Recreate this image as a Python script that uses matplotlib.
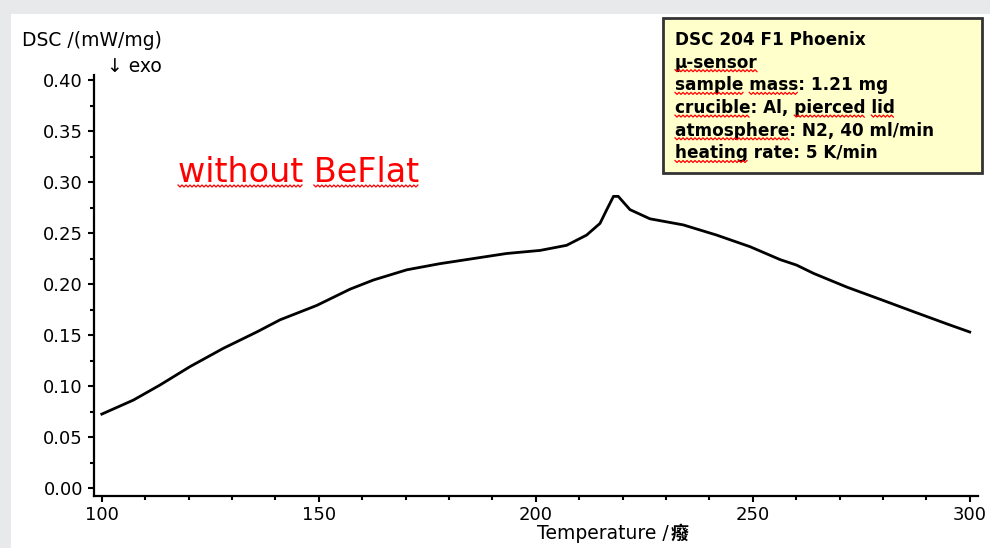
import matplotlib
matplotlib.use("Agg")
import numpy as np
import matplotlib.pyplot as plt
from matplotlib.patches import Rectangle
from matplotlib.lines import Line2D
from matplotlib.transforms import IdentityTransform
from matplotlib.font_manager import FontProperties
from matplotlib.ticker import MultipleLocator, FormatStrFormatter

# ---- data ----
temperature = [100, 107.3, 113.4, 120.3, 128, 135.7, 141.1, 149.5, 157.2, 162.6,
               170.3, 177.9, 185.6, 193.3, 201, 207.1, 211.7, 214.8, 216.3, 217.9,
               219.0, 221.7, 226.3, 234, 241.7, 249.4, 256.3, 260.1, 264, 271.7,
               279.4, 287, 294.7, 300]
dsc = [0.0725, 0.0863, 0.101, 0.119, 0.137, 0.153, 0.165, 0.179, 0.195, 0.204,
       0.214, 0.220, 0.225, 0.230, 0.233, 0.238, 0.248, 0.2595, 0.2725, 0.286,
       0.286, 0.273, 0.264, 0.258, 0.248, 0.2366, 0.224, 0.2186, 0.2105, 0.197,
       0.185, 0.173, 0.161, 0.153]
info_lines = ["DSC 204 F1 Phoenix", "\u00b5-sensor", "sample mass: 1.21 mg",
              "crucible: Al, pierced lid", "atmosphere: N2, 40 ml/min",
              "heating rate: 5 K/min"]
# words flagged by the spell checker (red wavy underline) in each line
flagged_words = [[], ["\u00b5-sensor"], ["sample", "mass"], ["crucible", "pierced", "lid"],
                 ["atmosphere"], ["heating"]]
note_text = "without BeFlat"
note_flagged = ["without", "BeFlat"]
y_label = "DSC /(mW/mg)"
x_label = "Temperature /"
unit_glyph = "\u7648"

W, H = 990, 548
fig = plt.figure(figsize=(W / 100, H / 100), dpi=100)
fig.patch.set_facecolor("white")
renderer = fig.canvas.get_renderer()

def px(x, y):
    return x / W, 1 - y / H

def text_w(s, fp):
    w, h, d = renderer.get_text_width_height_descent(s, fp, ismath=False)
    return w

def squiggle(x0, x1, ybase):
    xs = np.arange(x0, x1 + 0.1, 2.0)
    ys = np.where(np.arange(len(xs)) % 2 == 0, H - ybase, H - ybase - 2)
    fig.add_artist(Line2D(xs, ys, transform=IdentityTransform(), color="#ff0000",
                          lw=0.9, zorder=6))

def underline_words(line, words, x_left, ybase, fp):
    pos = 0
    for wd in words:
        i = line.index(wd, pos)
        x0 = x_left + text_w(line[:i], fp) if i > 0 else x_left
        x1 = x_left + text_w(line[:i + len(wd)], fp)
        squiggle(x0, x1, ybase)
        pos = i + len(wd)

# grey frame strips
fig.add_artist(Rectangle((0, 1 - 14 / H), 1, 14 / H, transform=fig.transFigure,
                         facecolor="#e8e9eb", edgecolor="none", zorder=0))
fig.add_artist(Rectangle((0, 0), 11 / W, 1, transform=fig.transFigure,
                         facecolor="#e8e9eb", edgecolor="none", zorder=0))

ax = fig.add_axes([94 / W, 1 - 496 / H, (978 - 94) / W, (496 - 75) / H])
ax.set_facecolor("none")
ax.plot(temperature, dsc, color="black", lw=2.0)
ax.set_xlim(98.2, 301.9)
ax.set_ylim(-0.0078, 0.405)
for s in ["top", "right"]:
    ax.spines[s].set_visible(False)
for s in ["left", "bottom"]:
    ax.spines[s].set_linewidth(1.6)
ax.xaxis.set_major_locator(MultipleLocator(50))
ax.xaxis.set_minor_locator(MultipleLocator(10))
ax.yaxis.set_major_locator(MultipleLocator(0.05))
ax.yaxis.set_minor_locator(MultipleLocator(0.025))
ax.yaxis.set_major_formatter(FormatStrFormatter("%.2f"))
ax.tick_params(which="both", direction="out", length=4, width=1.5,
               labelsize=13, color="black", pad=4)
ax.tick_params(axis="x", pad=3)
ax.tick_params(which="minor", length=3)

fig.text(*px(22, 46), y_label, fontsize=13.5, va="baseline", ha="left",
         family="DejaVu Sans")
fig.text(*px(107, 72), "\u2193 exo", fontsize=13.5, va="baseline", ha="left",
         family="DejaVu Sans")
fp_lab = FontProperties(family="DejaVu Sans", size=13.5)
fig.text(*px(537, 539), x_label, fontproperties=fp_lab, va="baseline", ha="left")
fig.text(*px(537 + text_w(x_label, fp_lab) + 2, 539), unit_glyph, fontsize=13,
         va="baseline", ha="left", fontweight="bold",
         family=["Noto Sans CJK SC", "DejaVu Sans"])

fp_note = FontProperties(family="DejaVu Sans", size=24)
fig.text(*px(178, 182), note_text, fontproperties=fp_note, color="#ff0000",
         va="baseline", ha="left")
underline_words(note_text, note_flagged, 178, 185, fp_note)

fig.add_artist(Rectangle((663 / W, 1 - 173 / H), (982 - 663) / W, (173 - 18) / H,
                         transform=fig.transFigure, facecolor="#ffffcc",
                         edgecolor="#333333", lw=2, zorder=3))
fp_box = FontProperties(family="DejaVu Sans", weight="bold", size=12.2)
for k, (line, words) in enumerate(zip(info_lines, flagged_words)):
    yb = 45 + k * 22.7
    fig.text(*px(675, yb), line, fontproperties=fp_box, va="baseline", ha="left",
             zorder=4)
    underline_words(line, words, 675, yb + 2, fp_box)

fig.savefig("out.png", dpi=100)
